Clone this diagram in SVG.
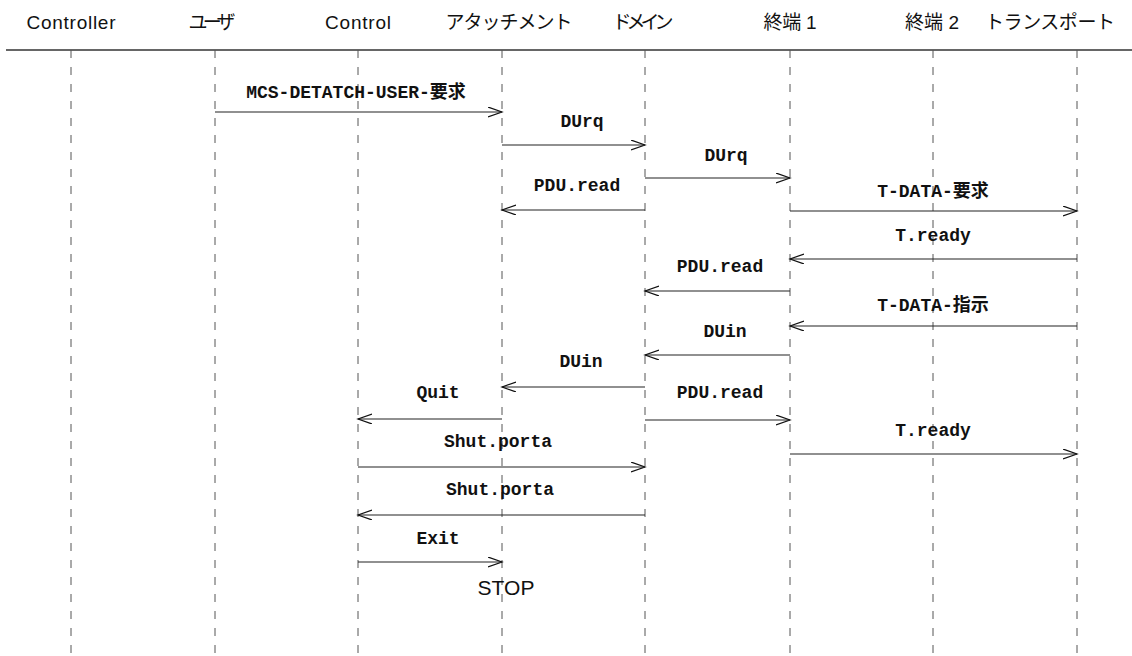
<svg xmlns="http://www.w3.org/2000/svg" width="1132" height="656" viewBox="0 0 1132 656">
<defs>
<style>
.hdr{font-family:"Liberation Sans","Noto Sans CJK JP",sans-serif;font-size:19px;fill:#111;text-anchor:middle}
.life{stroke:#555;stroke-width:1;stroke-dasharray:8 9;fill:none}
.msg{stroke:#222;stroke-width:1.2;fill:none;marker-end:url(#ah)}
.lbl{font-family:"Liberation Mono","Noto Sans CJK JP",monospace;font-weight:bold;font-size:18px;fill:#111;text-anchor:middle}
.stop{font-family:"Liberation Sans",sans-serif;font-size:21px;fill:#111;text-anchor:middle}
</style>
<marker id="ah" markerWidth="16" markerHeight="12" refX="14" refY="5" orient="auto" markerUnits="userSpaceOnUse">
<path d="M0,0 L14,5 L0,10" fill="none" stroke="#111" stroke-width="1.2"/>
</marker>
</defs>
<rect width="1132" height="656" fill="#fff"/>
<line x1="6" y1="50" x2="1132" y2="50" stroke="#333" stroke-width="1.5"/>
<g id="controller"><text class="hdr" x="71" y="29" textLength="89">Controller</text><line class="life" x1="71" y1="50" x2="71" y2="656"/></g>
<g id="user"><text class="hdr" x="212" y="29" textLength="47">ユーザ</text><line class="life" x1="215" y1="50" x2="215" y2="656"/></g>
<g id="control"><text class="hdr" x="358" y="29" textLength="66">Control</text><line class="life" x1="358" y1="50" x2="358" y2="656"/></g>
<g id="attachment"><text class="hdr" x="509" y="29" textLength="127">アタッチメント</text><line class="life" x1="502" y1="50" x2="502" y2="656"/></g>
<g id="domain"><text class="hdr" x="643" y="29" textLength="61">ドメイン</text><line class="life" x1="645" y1="50" x2="645" y2="656"/></g>
<g id="term1"><text class="hdr" x="790" y="29" textLength="53">終端 1</text><line class="life" x1="790" y1="50" x2="790" y2="656"/></g>
<g id="term2"><text class="hdr" x="932" y="29" textLength="54">終端 2</text><line class="life" x1="933" y1="50" x2="933" y2="656"/></g>
<g id="transport"><text class="hdr" x="1050" y="29" textLength="130">トランスポート</text><line class="life" x1="1077" y1="50" x2="1077" y2="656"/></g>
<g id="connectors">
<line class="msg" x1="215" y1="112" x2="502" y2="112"/><text class="lbl" x="356" y="98">MCS-DETATCH-USER-要求</text>
<line class="msg" x1="502" y1="145" x2="645" y2="145"/><text class="lbl" x="582" y="127">DUrq</text>
<line class="msg" x1="645" y1="178" x2="790" y2="178"/><text class="lbl" x="726" y="161">DUrq</text>
<line class="msg" x1="645" y1="210" x2="502" y2="210"/><text class="lbl" x="577" y="191">PDU.read</text>
<line class="msg" x1="790" y1="211" x2="1077" y2="211"/><text class="lbl" x="933" y="197">T-DATA-要求</text>
<line class="msg" x1="1077" y1="259" x2="790" y2="259"/><text class="lbl" x="933" y="241">T.ready</text>
<line class="msg" x1="790" y1="291" x2="645" y2="291"/><text class="lbl" x="720" y="272">PDU.read</text>
<line class="msg" x1="1077" y1="326" x2="790" y2="326"/><text class="lbl" x="933" y="311">T-DATA-指示</text>
<line class="msg" x1="790" y1="355" x2="645" y2="355"/><text class="lbl" x="725" y="337">DUin</text>
<line class="msg" x1="645" y1="387" x2="502" y2="387"/><text class="lbl" x="581" y="367">DUin</text>
<line class="msg" x1="502" y1="419" x2="358" y2="419"/><text class="lbl" x="438" y="398">Quit</text>
<line class="msg" x1="645" y1="420" x2="790" y2="420"/><text class="lbl" x="720" y="398">PDU.read</text>
<line class="msg" x1="790" y1="454" x2="1077" y2="454"/><text class="lbl" x="933" y="436">T.ready</text>
<line class="msg" x1="358" y1="467" x2="645" y2="467"/><text class="lbl" x="498" y="447">Shut.porta</text>
<line class="msg" x1="645" y1="515" x2="358" y2="515"/><text class="lbl" x="500" y="495">Shut.porta</text>
<line class="msg" x1="358" y1="562" x2="502" y2="562"/><text class="lbl" x="438" y="544">Exit</text>
</g>
<text class="stop" x="506" y="595">STOP</text>
</svg>
